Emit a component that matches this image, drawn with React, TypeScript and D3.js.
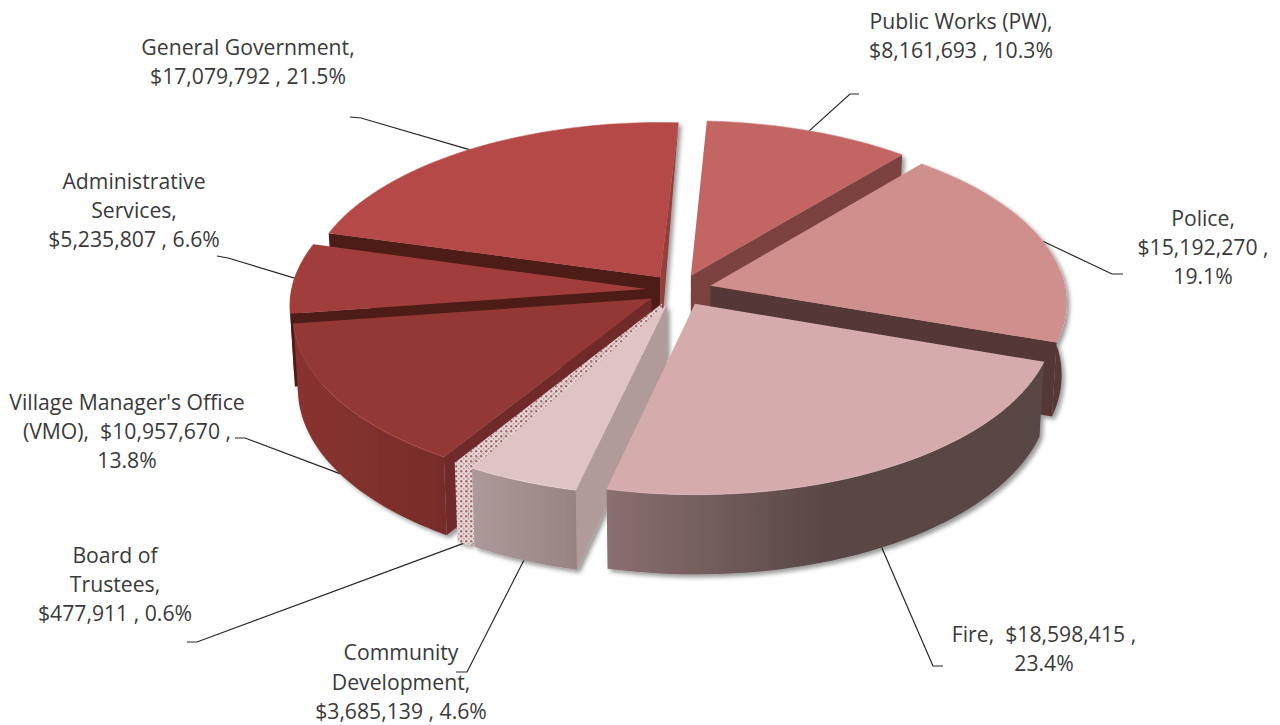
import React from "react";
import * as d3 from "d3";

// Budget by department, clockwise from the twelve o'clock slice.
const departments = [
  "Public Works (PW)",
  "Police",
  "Fire",
  "Community Development",
  "Board of Trustees",
  "Village Manager's Office (VMO)",
  "Administrative Services",
  "General Government",
];
const budgets = [8161693, 15192270, 18598415, 3685139, 477911, 10957670, 5235807, 17079792];
const percents = [10.3, 19.1, 23.4, 4.6, 0.6, 13.8, 6.6, 21.5];

// Wrapped text of each label, in the same order as the departments.
const labelLines = [
  ["Public Works (PW),", "$8,161,693 , 10.3%"],
  ["Police,", "$15,192,270 ,", "19.1%"],
  ["Fire,  $18,598,415 ,", "23.4%"],
  ["Community", "Development,", "$3,685,139 , 4.6%"],
  ["Board of", "Trustees,", "$477,911 , 0.6%"],
  ["Village Manager's Office", "(VMO),  $10,957,670 ,", "13.8%"],
  ["Administrative", "Services,", "$5,235,807 , 6.6%"],
  ["General Government,", "$17,079,792 , 21.5%"],
];
const labelCenters = [
  [961, 21], [1203, 218], [1044, 634], [401, 652.7],
  [115, 555], [127, 402], [134, 181], [248, 47],
];
const leaderElbows = [
  [[859, 94], [850, 94]],
  [[1123, 274], [1112, 274]],
  [[943, 666], [933, 666]],
  [[456, 672], [467, 672]],
  [[187, 642], [197, 642]],
  [[235, 438], [245, 438]],
  [[217, 256], [228, 258]],
  [[350, 117], [361, 118]],
];

// Colours: top face, rim, start face, end face.
const topFill = ["#c26564", "#cf8f8d", "#d6abab", "#e0c3c4", "url(#hatch)", "#933836", "#a13e3b", "#b54a47"];
const rimFill = ["#7c4340", "#543836", "url(#rimFire)", "url(#rimCommunity)", "url(#hatch)", "url(#rimVmo)", "#4e1b18", "#8f3d3a"];
const startFill = ["#7c4340", "#543836", "#5a4745", "#b09b9a", "url(#hatch)", "#702c2b", "#4e1b18", "#4e1b18"];
const endFill = ["#7c4340", "#543836", "#5a4745", "#b09b9a", "url(#hatch)", "#702c2b", "#4e1b18", "#933f3c"];
const rimGlow = ["#d07d7c", "#dca5a3", "#e3c3c3", "#f4e3e3", "#ffffff", "#b85350", "#b85350", "#c45c59"];
const paintOrder = [0, 1, 7, 6, 5, 4, 3, 2];

// Projection of the tilted disc.
const cx = 679;
const cy = 290;
const radiusX = 355;
const radiusY = 171;
const depth = 72;
const lean = 0.09;
const explode = 0.092;
const firstAngle = (3 * Math.PI) / 180;

const project = (x: number, y: number, z = 0): [number, number] => {
  const w = 1 + lean * y;
  return [cx + ((radiusX * x) / w) * (1 - 0.012 * z), cy - (radiusY * y) / w + (z * depth) / w];
};

const arcs = d3
  .pie<number>()
  .sort(null)
  .startAngle(firstAngle)
  .endAngle(firstAngle + 2 * Math.PI)(budgets);

const toPath = d3.line();

function sliceGeometry(i: number) {
  const a = arcs[i];
  const mid = (a.startAngle + a.endAngle) / 2;
  const ox = explode * Math.sin(mid);
  const oy = explode * Math.cos(mid);
  const at = (angle: number, z: number) => project(ox + Math.sin(angle), oy + Math.cos(angle), z);
  const apex = (z: number) => project(ox, oy, z);
  const steps = d3.range(0, 41).map((s) => a.startAngle + ((a.endAngle - a.startAngle) * s) / 40);
  return { a, mid, ox, oy, at, apex, steps };
}

// Screen winding decides whether a wall faces the viewer.
const facing = (pts: [number, number][]) => d3.polygonArea(pts) < 0;

function Slice({ i }: { i: number }) {
  const { a, at, apex, steps } = sliceGeometry(i);
  const frontSteps = steps.filter((t) => Math.cos(t) < 0.12);
  const startFace: [number, number][] = [apex(0), apex(1), at(a.startAngle, 1), at(a.startAngle, 0)];
  // A wall running straight back tapers to its outer top corner.
  const endFace: [number, number][] =
    Math.cos(a.endAngle) > 0.95
      ? [apex(0), at(a.endAngle, 0), apex(1)]
      : [apex(0), at(a.endAngle, 0), at(a.endAngle, 1), apex(1)];
  const rim: [number, number][] = [
    ...frontSteps.map((t) => at(t, 0)),
    ...[...frontSteps].reverse().map((t) => at(t, 1)),
  ];
  const topArc = steps.map((t) => at(t, 0));
  const top: [number, number][] = [apex(0), ...topArc];
  const closed = (p: [number, number][]) => toPath(p) + "Z";
  return (
    <g>
      {facing(startFace) ? <path d={closed(startFace)} fill={startFill[i]} /> : null}
      {facing(endFace) ? <path d={closed(endFace)} fill={endFill[i]} /> : null}
      {frontSteps.length > 1 ? <path d={closed(rim)} fill={rimFill[i]} /> : null}
      <path d={closed(top)} fill={topFill[i]} />
      <path d={toPath(topArc) ?? ""} fill="none" stroke={rimGlow[i]} strokeWidth={1} strokeOpacity={0.55} />
    </g>
  );
}

function Leader({ i }: { i: number }) {
  const g = sliceGeometry(i);
  const y = g.oy + Math.cos(g.mid);
  const anchor = project(g.ox + Math.sin(g.mid), y, y < -0.4 ? 1 : 0);
  const pts = [...leaderElbows[i], anchor] as [number, number][];
  return <path d={toPath(pts) ?? ""} fill="none" stroke="#262626" strokeWidth={1.2} />;
}

function Label({ i }: { i: number }) {
  const [x, y] = labelCenters[i];
  return (
    <text
      x={x}
      textAnchor="middle"
      fontFamily="'Open Sans', 'Noto Sans', sans-serif"
      fontSize={21.2}
      fill="#3a3a3a"
      aria-label={`${departments[i]}, ${d3.format("$,")(budgets[i])}, ${percents[i]}%`}
    >
      {labelLines[i].map((line, n) => (
        <tspan key={n} x={x} y={y + 7.5 + n * 29.3} xmlSpace="preserve">
          {line}
        </tspan>
      ))}
    </text>
  );
}

export default function App() {
  return (
    <svg
      width={1280}
      height={725}
      viewBox="0 0 1280 725"
      style={{ position: "absolute", left: 0, top: 0, background: "#fff" }}
    >
      <defs>
        <linearGradient id="rimFire" gradientUnits="userSpaceOnUse" x1={606} x2={830} y1={0} y2={0}>
          <stop offset="0" stopColor="#8c6f71" />
          <stop offset="1" stopColor="#584645" />
        </linearGradient>
        <linearGradient id="rimCommunity" gradientUnits="userSpaceOnUse" x1={470} x2={578} y1={0} y2={0}>
          <stop offset="0" stopColor="#ae9a9a" />
          <stop offset="1" stopColor="#968382" />
        </linearGradient>
        <linearGradient id="rimVmo" gradientUnits="userSpaceOnUse" x1={295} x2={450} y1={0} y2={0}>
          <stop offset="0" stopColor="#8a3330" />
          <stop offset="1" stopColor="#762c2a" />
        </linearGradient>
        <pattern id="hatch" patternUnits="userSpaceOnUse" width={5} height={5}>
          <rect width={5} height={5} fill="#e6d8d8" />
          <circle cx={1.2} cy={1.2} r={1.2} fill="#a86a69" />
          <circle cx={3.7} cy={3.7} r={1} fill="#c59a9a" />
        </pattern>
        <filter id="pieShadow" x="-5%" y="-5%" width="110%" height="115%">
          <feDropShadow dx={3} dy={3} stdDeviation={2} floodColor="#000" floodOpacity={0.4} />
        </filter>
      </defs>
      <g>
        {arcs.map((_, i) => (
          <Leader key={i} i={i} />
        ))}
      </g>
      <g filter="url(#pieShadow)">
        {paintOrder.map((i) => (
          <Slice key={i} i={i} />
        ))}
      </g>
      <g>
        {arcs.map((_, i) => (
          <Label key={i} i={i} />
        ))}
      </g>
    </svg>
  );
}
